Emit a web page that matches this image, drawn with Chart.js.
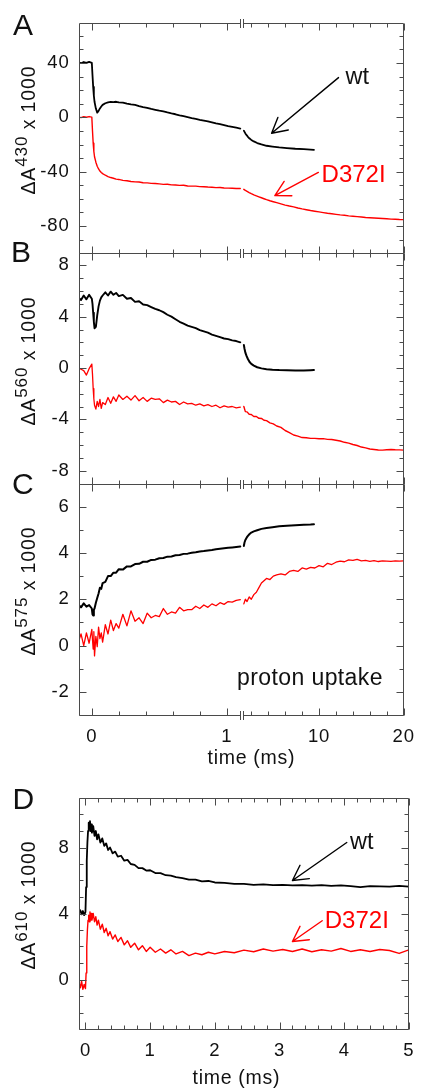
<!DOCTYPE html>
<html>
<head>
<meta charset="utf-8">
<script src="https://cdn.jsdelivr.net/npm/chart.js@4.4.1/dist/chart.umd.min.js"></script>
<style>
html, body { margin: 0; padding: 0; background: #fff; }
#wrap { position: relative; width: 425px; height: 1089px; overflow: hidden; background: #fff; }
canvas { position: absolute; left: 0; }
#c1 { top: 0; }
#c2 { top: 770px; }
</style>
</head>
<body>
<div id="wrap">
  <canvas id="c1" width="425" height="770"></canvas>
  <canvas id="c2" width="425" height="319"></canvas>
</div>
<script>
// ---------------- DATA ----------------
// time axis (ms) of the fast part (left of the axis break), panels A-C
const fastTime = [
  -0.10,-0.08,-0.06,-0.04,-0.02,0.00,0.005,0.01,0.015,0.02,
  0.03,0.04,0.05,0.06,0.07,0.08,0.10,0.12,0.14,0.16,
  0.18,0.20,0.23,0.26,0.29,0.32,0.35,0.38,0.41,0.44,
  0.47,0.50,0.53,0.56,0.59,0.62,0.65,0.68,0.71,0.74,
  0.77,0.80,0.83,0.86,0.89,0.92,0.95,0.98,1.01,1.04,
  1.07,1.10];
// slow part (right of the break), wt and D372I
const slowTimeWt = [1.12,1.2,1.3,1.45,1.6,1.8,2.0,2.3,2.7,3.2,3.8,4.5,5.3,6.2,7.2,8.2,9.0,9.4];
const slowTimeMut = [
  1.12,1.3,1.5,1.75,2.0,2.3,2.6,2.9,3.2,3.5,
  3.8,4.2,4.6,5.0,5.5,6.0,6.5,7.0,7.5,8.0,
  8.5,9.0,9.5,10.0,10.5,11.0,11.5,12.0,12.5,13.0,
  13.5,14.0,14.5,15.0,15.5,16.0,16.5,17.0,17.5,18.0,
  18.5,19.0,19.5,20.0];

// Panel A: dA430 x 1000
const wt430Fast = [
  40.5,39.9,40.8,40.1,40.9,40.2,31.0,22.5,16.0,11.5,
  6.5,3.5,4.8,6.6,8.0,9.2,10.4,11.0,11.4,11.2,
  11.5,11.0,10.9,10.2,9.6,9.2,8.3,7.6,7.0,6.2,
  5.6,4.9,4.4,3.6,2.9,2.3,1.5,0.9,0.2,-0.5,
  -1.1,-1.8,-2.4,-3.0,-3.7,-4.4,-5.0,-5.7,-6.4,-7.0,
  -7.6,-8.2];
const wt430Slow = [-9.8,-10.7,-11.8,-13.1,-14.3,-15.6,-16.6,-17.7,-18.9,-19.9,-20.9,-21.5,-22.1,-22.6,-23.1,-23.4,-23.7,-23.9];
const mut430Fast = [
  0.3,-0.2,0.5,0.1,0.6,0.2,-10.0,-19.0,-25.0,-29.0,
  -33.0,-36.0,-38.0,-39.5,-40.6,-41.4,-42.6,-43.6,-44.3,-44.8,
  -45.5,-45.7,-46.4,-46.7,-47.2,-47.5,-47.6,-48.1,-48.2,-48.6,
  -48.7,-49.0,-49.3,-49.2,-49.7,-49.8,-50.1,-50.0,-50.5,-50.6,
  -50.6,-51.0,-51.1,-51.3,-51.4,-51.7,-51.6,-52.0,-52.1,-52.2,
  -52.4,-52.4];
const mut430Slow = [
  -53.0,-53.8,-54.5,-55.4,-56.2,-57.1,-57.8,-58.5,-59.2,-59.9,
  -60.6,-61.4,-62.1,-62.8,-63.7,-64.6,-65.3,-65.9,-66.7,-67.4,
  -68.0,-68.6,-69.1,-69.6,-70.1,-70.6,-71.0,-71.4,-71.8,-72.1,
  -72.5,-72.8,-73.1,-73.4,-73.7,-73.9,-74.1,-74.3,-74.5,-74.7,
  -74.9,-75.0,-75.2,-75.3];

// Panel B: dA560 x 1000
const wt560Fast = [
  5.5,5.3,5.65,5.35,5.7,5.4,5.0,4.3,3.6,3.1,
  3.2,4.1,4.8,5.25,5.5,5.65,5.9,5.65,5.95,5.7,
  5.85,5.6,5.7,5.4,5.45,5.15,5.2,4.95,4.9,4.75,
  4.6,4.5,4.35,4.15,4.0,3.8,3.6,3.45,3.3,3.2,
  3.1,2.95,2.85,2.75,2.6,2.5,2.4,2.3,2.25,2.15,
  2.1,2.0];
const wt560Slow = [1.8,1.5,1.2,0.92,0.7,0.47,0.32,0.18,0.06,-0.03,-0.09,-0.13,-0.16,-0.18,-0.2,-0.19,-0.17,-0.16];
const mut560Fast = [
  0.0,-0.1,-0.2,-0.55,-0.05,0.3,-0.5,-1.6,-2.4,-2.9,
  -3.2,-2.6,-3.0,-2.45,-3.15,-2.7,-2.85,-2.3,-2.75,-2.25,
  -2.6,-2.1,-2.45,-2.2,-2.5,-2.15,-2.55,-2.3,-2.6,-2.35,
  -2.45,-2.4,-2.7,-2.5,-2.65,-2.6,-2.85,-2.65,-2.8,-2.75,
  -2.9,-2.8,-2.95,-2.85,-3.0,-2.9,-3.1,-2.95,-3.05,-3.0,
  -3.1,-3.05];
const mut560Slow = [
  -3.0,-3.4,-3.42,-3.6,-3.62,-3.78,-3.78,-3.92,-3.93,-4.07,
  -4.1,-4.27,-4.36,-4.52,-4.63,-4.87,-5.03,-5.22,-5.31,-5.42,
  -5.43,-5.48,-5.48,-5.51,-5.5,-5.56,-5.57,-5.63,-5.69,-5.79,
  -5.85,-5.96,-6.04,-6.16,-6.22,-6.31,-6.35,-6.39,-6.4,-6.37,
  -6.35,-6.37,-6.38,-6.4];

// Panel C: dA575 x 1000 (proton uptake)
const wt575Fast = [
  1.78,1.65,1.82,1.68,1.75,1.6,1.35,1.3,1.55,1.6,
  1.85,2.05,2.25,2.5,2.45,2.7,2.75,3.0,3.0,3.15,
  3.15,3.3,3.28,3.42,3.42,3.52,3.53,3.62,3.62,3.7,
  3.71,3.77,3.78,3.84,3.85,3.9,3.91,3.96,3.97,4.01,
  4.03,4.06,4.08,4.11,4.13,4.16,4.18,4.2,4.22,4.24,
  4.26,4.28];
const wt575Slow = [4.3,4.45,4.56,4.66,4.74,4.82,4.88,4.93,4.98,5.04,5.08,5.11,5.15,5.18,5.2,5.22,5.23,5.24];
const mut575Fast = [
  0.15,0.5,0.0,0.55,0.1,0.7,0.25,-0.15,0.6,-0.45,
  0.4,-0.05,0.8,0.3,0.55,0.15,0.9,0.5,1.1,0.65,
  0.95,0.75,1.35,0.85,1.5,1.05,1.2,0.95,1.4,1.2,
  1.3,1.25,1.6,1.35,1.45,1.4,1.65,1.5,1.55,1.55,
  1.7,1.6,1.75,1.65,1.8,1.72,1.85,1.78,1.9,1.88,
  1.95,1.98];
const mut575Slow = [
  1.8,2.0,1.9,2.1,2.0,2.2,2.3,2.5,2.7,2.8,
  2.9,2.85,3.0,3.05,3.1,3.05,3.2,3.25,3.2,3.35,
  3.3,3.38,3.35,3.45,3.4,3.55,3.5,3.6,3.65,3.62,
  3.7,3.68,3.72,3.66,3.68,3.64,3.67,3.63,3.66,3.65,
  3.64,3.66,3.65,3.66];

// Panel D: dA610 x 1000
const timeD = [
  -0.10,-0.08,-0.06,-0.04,-0.02,0.00,0.01,0.02,0.03,0.04,
  0.05,0.06,0.07,0.08,0.09,0.10,0.12,0.14,0.16,0.18,
  0.20,0.23,0.26,0.29,0.32,0.35,0.38,0.42,0.46,0.50,
  0.55,0.60,0.65,0.70,0.76,0.82,0.88,0.94,1.00,1.08,
  1.16,1.24,1.32,1.40,1.50,1.60,1.70,1.80,1.90,2.00,
  2.15,2.30,2.45,2.60,2.75,2.90,3.05,3.20,3.35,3.50,
  3.65,3.80,3.95,4.10,4.25,4.40,4.55,4.70,4.85,5.00];
const wt610 = [
  4.05,4.2,3.95,4.15,3.9,4.1,5.6,7.2,8.3,9.0,
  9.5,9.2,9.6,9.0,9.4,8.9,9.3,8.7,9.0,8.5,
  8.8,8.3,8.55,8.1,8.25,7.85,8.0,7.65,7.75,7.45,
  7.5,7.2,7.25,7.0,6.95,6.75,6.75,6.6,6.62,6.45,
  6.45,6.32,6.3,6.2,6.15,6.05,6.05,5.95,5.97,5.88,
  5.85,5.8,5.8,5.74,5.77,5.72,5.74,5.7,5.72,5.69,
  5.72,5.67,5.7,5.66,5.6,5.66,5.64,5.63,5.67,5.63];
const mut610 = [
  -0.2,-0.5,-0.1,-0.6,-0.3,-0.55,0.4,2.0,3.0,3.6,
  3.9,3.5,4.1,3.6,4.0,3.6,4.0,3.5,3.8,3.3,
  3.6,3.05,3.35,2.85,3.1,2.65,2.9,2.45,2.7,2.3,
  2.55,2.1,2.35,1.95,2.2,1.8,2.05,1.7,1.95,1.65,
  1.85,1.6,1.8,1.55,1.7,1.45,1.6,1.5,1.65,1.55,
  1.7,1.62,1.78,1.68,1.85,1.72,1.82,1.7,1.85,1.68,
  1.8,1.72,1.88,1.7,1.8,1.7,1.82,1.76,1.58,1.8];

// tick labels
const ticks430 = [-80, -40, 0, 40];
const ticks560 = [-8, -4, 0, 4, 8];
const ticks575 = [-2, 0, 2, 4, 6];
const ticks610 = [0, 4, 8];
const timeTicksABC = [0, 1, 10, 20];
const timeTicksD = [0, 1, 2, 3, 4, 5];

// ---------------- STYLE ----------------
const FONT = '"Liberation Sans", Arial, Helvetica, sans-serif';
const INK = '#111111';
const FRAME = '#4a4a4a';
const RED = '#ff0000';
const BLACK = '#000000';
const TICK_SPACING = '0.8px';

// broken time axis: [-0.095, 1.1] on the left half, [1, 20] on the right half
const BRK = { a0: -0.095, a1: 1.1, b0: 1.0, b1: 20, f1: 0.4967, f2: 0.5045 };

const LinearScale = Chart.LinearScale || Chart.registry.getScale('linear');
class BrokenScale extends LinearScale {
  getPixelForValue(value) {
    if (value === null || value === undefined || isNaN(value)) return NaN;
    let dec;
    if (value <= BRK.a1) dec = (value - BRK.a0) / (BRK.a1 - BRK.a0) * BRK.f1;
    else dec = BRK.f2 + (value - BRK.b0) / (BRK.b1 - BRK.b0) * (1 - BRK.f2);
    return this.getPixelForDecimal(dec);
  }
  getValueForPixel(pixel) {
    const dec = this.getDecimalForPixel(pixel);
    if (dec <= BRK.f1) return BRK.a0 + dec / BRK.f1 * (BRK.a1 - BRK.a0);
    return BRK.b0 + (dec - BRK.f2) / (1 - BRK.f2) * (BRK.b1 - BRK.b0);
  }
}
BrokenScale.id = 'broken';
BrokenScale.defaults = {};
Chart.register(BrokenScale);

const lineDs = (t, v, yAxisID, color, width) => ({
  data: v.map((y, i) => ({ x: t[i], y })),
  xAxisID: 'x', yAxisID,
  borderColor: color, borderWidth: width,
  pointRadius: 0, tension: 0, fill: false,
  borderJoinStyle: 'round', borderCapStyle: 'round'
});

const tickFont = { family: FONT, size: 18.5 };

function yAxis(min, max, ticks, extra) {
  return Object.assign({
    type: 'linear', position: 'left', min, max,
    afterBuildTicks: s => { s.ticks = ticks.map(v => ({ value: v })); },
    afterFit: s => { s.width = 79; },
    grid: { display: false, drawTicks: false },
    border: { display: false },
    ticks: { autoSkip: false, padding: 9.5, color: INK, font: tickFont, callback: v => String(v) }
  }, extra || {});
}
function xAxis(type, min, max, ticks, height) {
  return {
    type, min, max, position: 'bottom',
    afterBuildTicks: s => { s.ticks = ticks.map(v => ({ value: v })); },
    afterFit: s => { s.height = height; },
    grid: { display: false, drawTicks: false },
    border: { display: false },
    ticks: { autoSkip: false, maxRotation: 0, minRotation: 0, padding: 11, color: INK, font: tickFont, callback: v => String(v) }
  };
}

// ---------------- drawing helpers ----------------
function seg(ctx, x1, y1, x2, y2) { ctx.beginPath(); ctx.moveTo(x1, y1); ctx.lineTo(x2, y2); ctx.stroke(); }
const snap = v => Math.round(v) + 0.5;

function txt(ctx, s, x, y, size, color, align, spacing) {
  ctx.save();
  ctx.font = size + 'px ' + FONT;
  ctx.fillStyle = color;
  ctx.textAlign = align || 'left';
  ctx.textBaseline = 'alphabetic';
  ctx.letterSpacing = (spacing || 0) + 'px';
  ctx.fillText(s, x, y);
  ctx.restore();
}
function yTitle(ctx, sup, xBase, yCenter) {
  const F = 19.5, FS = 17;
  ctx.save();
  ctx.letterSpacing = '0.9px';
  ctx.font = F + 'px ' + FONT;
  const w1 = ctx.measureText('\u0394A').width;
  const w3 = ctx.measureText(' x 1000').width;
  ctx.font = FS + 'px ' + FONT;
  const w2 = ctx.measureText(sup).width;
  const x0 = -(w1 + w2 + w3) / 2;
  ctx.translate(xBase, yCenter);
  ctx.rotate(-Math.PI / 2);
  ctx.fillStyle = INK;
  ctx.textBaseline = 'alphabetic';
  ctx.textAlign = 'left';
  ctx.font = F + 'px ' + FONT; ctx.fillText('\u0394A', x0, 0);
  ctx.font = FS + 'px ' + FONT; ctx.fillText(sup, x0 + w1, -8.5);
  ctx.font = F + 'px ' + FONT; ctx.fillText(' x 1000', x0 + w1 + w2, 0);
  ctx.restore();
}
function arrow(ctx, x1, y1, x2, y2, color) {
  const ang = Math.atan2(y2 - y1, x2 - x1), h = 17, a = 0.5;
  ctx.save();
  ctx.strokeStyle = color; ctx.lineWidth = 1.4; ctx.lineCap = 'round'; ctx.lineJoin = 'round';
  ctx.beginPath();
  ctx.moveTo(x1, y1); ctx.lineTo(x2, y2);
  ctx.moveTo(x2 - h * Math.cos(ang - a), y2 - h * Math.sin(ang - a));
  ctx.lineTo(x2, y2);
  ctx.lineTo(x2 - h * Math.cos(ang + a), y2 - h * Math.sin(ang + a));
  ctx.stroke();
  ctx.restore();
}

// frame with inward ticks (positions from the chart scales)
function framePlugin(cfg) {
  return {
    id: 'frame',
    beforeDraw(chart) { chart.ctx.letterSpacing = TICK_SPACING; },
    afterDraw(chart) {
      const ctx = chart.ctx, ca = chart.chartArea, xs = chart.scales.x;
      ctx.save();
      ctx.letterSpacing = '0px';
      ctx.strokeStyle = FRAME; ctx.lineWidth = 1;
      const L = snap(ca.left), R = snap(ca.right - 1);
      let gap = null;
      if (cfg.broken) gap = [snap(xs.getPixelForDecimal(BRK.f1)), snap(xs.getPixelForDecimal(BRK.f2))];
      cfg.panels.forEach(p => {
        const ys = chart.scales[p.axis];
        const T = snap(ys.top), B = snap(ys.bottom);
        seg(ctx, L, T, L, B); seg(ctx, R, T, R, B);
        [T, B].forEach(y => {
          if (gap) {
            seg(ctx, L, y, gap[0], y); seg(ctx, gap[1], y, R, y);
            seg(ctx, gap[0], y - 4.5, gap[0], y + 4.5); seg(ctx, gap[1], y - 4.5, gap[1], y + 4.5);
          } else seg(ctx, L, y, R, y);
        });
        const st = p.minor;
        for (let k = Math.ceil(ys.min / st - 1e-9); k * st <= ys.max + 1e-9; k++) {
          const v = k * st;
          const y = snap(ys.getPixelForValue(v));
          const len = p.major.some(m => Math.abs(m - v) < 1e-9) ? 7 : 4;
          seg(ctx, L, y, L + len, y); seg(ctx, R, y, R - len, y);
        }
        cfg.xTicks.forEach(t => {
          const x = snap(xs.getPixelForValue(t.v));
          const len = t.major ? 7 : 4;
          seg(ctx, x, T, x, T + len); seg(ctx, x, B, x, B - len);
        });
      });
      ctx.restore();
    }
  };
}
function annotPlugin(cfg) {
  return {
    id: 'annot',
    afterDraw(chart) {
      const ctx = chart.ctx, xs = chart.scales.x;
      cfg.letters.forEach(l => txt(ctx, l.s, l.x, l.y, 30, INK, 'left', 0));
      cfg.yTitles.forEach(t => yTitle(ctx, t.sup, 35, t.y));
      txt(ctx, 'time (ms)', cfg.xTitle.x, cfg.xTitle.y, 19.5, INK, 'center', 0.7);
      cfg.labels.forEach(a => {
        const ys = chart.scales[a.axis];
        txt(ctx, a.s, xs.getPixelForValue(a.x), ys.getPixelForValue(a.y), a.size, a.color, 'left', a.sp || 0);
      });
      cfg.arrows.forEach(a => {
        const ys = chart.scales[a.axis];
        arrow(ctx, xs.getPixelForValue(a.from[0]), ys.getPixelForValue(a.from[1]),
                   xs.getPixelForValue(a.to[0]), ys.getPixelForValue(a.to[1]), a.color);
      });
    }
  };
}

const baseOpts = {
  responsive: false, animation: false, devicePixelRatio: 1,
  plugins: { legend: { display: false }, tooltip: { enabled: false } },
  elements: { point: { radius: 0 } },
  events: []
};

// ---------------- Chart 1: panels A, B, C ----------------
const xTicksABC = [0, 0.2, 0.4, 0.6, 0.8, 1, 2, 4, 6, 8, 10, 12, 14, 16, 18, 20]
  .map(v => ({ v, major: timeTicksABC.includes(v) }));

new Chart(document.getElementById('c1'), {
  type: 'line',
  data: {
    datasets: [
      lineDs(fastTime, mut430Fast, 'yA', RED, 1.4),
      lineDs(slowTimeMut, mut430Slow, 'yA', RED, 1.4),
      lineDs(fastTime, wt430Fast, 'yA', BLACK, 1.8),
      lineDs(slowTimeWt, wt430Slow, 'yA', BLACK, 1.8),
      lineDs(fastTime, mut560Fast, 'yB', RED, 1.3),
      lineDs(slowTimeMut, mut560Slow, 'yB', RED, 1.4),
      lineDs(fastTime, wt560Fast, 'yB', BLACK, 1.9),
      lineDs(slowTimeWt, wt560Slow, 'yB', BLACK, 2.0),
      lineDs(fastTime, mut575Fast, 'yC', RED, 1.3),
      lineDs(slowTimeMut, mut575Slow, 'yC', RED, 1.3),
      lineDs(fastTime, wt575Fast, 'yC', BLACK, 2.0),
      lineDs(slowTimeWt, wt575Slow, 'yC', BLACK, 2.0)
    ]
  },
  options: Object.assign({}, baseOpts, {
    layout: { padding: { top: 23, right: 11, left: 0, bottom: 0 } },
    scales: {
      x: xAxis('broken', -0.095, 20, timeTicksABC, 55),
      yA: yAxis(-99.5, 69.5, ticks430, { stack: 'abc', stackWeight: 229.5, weight: 3 }),
      yB: yAxis(-9, 9, ticks560, { stack: 'abc', stackWeight: 231, weight: 2 }),
      yC: yAxis(-3, 7, ticks575, { stack: 'abc', stackWeight: 231.5, weight: 1 })
    }
  }),
  plugins: [
    framePlugin({
      broken: true,
      panels: [
        { axis: 'yA', minor: 10, major: ticks430 },
        { axis: 'yB', minor: 1, major: ticks560 },
        { axis: 'yC', minor: 1, major: ticks575 }
      ],
      xTicks: xTicksABC
    }),
    annotPlugin({
      letters: [{ s: 'A', x: 13, y: 34.5 }, { s: 'B', x: 11, y: 262 }, { s: 'C', x: 12, y: 493.5 }],
      yTitles: [{ sup: '430', y: 130 }, { sup: '560', y: 361 }, { sup: '575', y: 591 }],
      xTitle: { x: 251.3, y: 763.5 },
      labels: [
        { s: 'wt', axis: 'yA', x: 13.13, y: 24.9, size: 23.5, color: INK },
        { s: 'D372I', axis: 'yA', x: 10.3, y: -47.8, size: 24, color: RED },
        { s: 'proton uptake', axis: 'yC', x: 1.076, y: -1.71, size: 23, color: INK, sp: 0.4 }
      ],
      arrows: [
        { axis: 'yA', from: [12.3, 29.3], to: [4.4, -11.7], color: BLACK },
        { axis: 'yA', from: [9.92, -40.5], to: [4.78, -57.6], color: RED }
      ]
    })
  ]
});

// ---------------- Chart 2: panel D ----------------
const xTicksD = [];
for (let k = 0; k <= 25; k++) xTicksD.push({ v: Math.round(k * 2) / 10, major: k % 5 === 0 });

new Chart(document.getElementById('c2'), {
  type: 'line',
  data: {
    datasets: [
      lineDs(timeD, mut610, 'yD', RED, 1.4),
      lineDs(timeD, wt610, 'yD', BLACK, 1.8)
    ]
  },
  options: Object.assign({}, baseOpts, {
    layout: { padding: { top: 28, right: 11, left: 0, bottom: 0 } },
    scales: {
      x: xAxis('linear', -0.1, 5, timeTicksD, 60),
      yD: yAxis(-3, 11, ticks610)
    }
  }),
  plugins: [
    framePlugin({
      broken: false,
      panels: [{ axis: 'yD', minor: 1, major: ticks610 }],
      xTicks: xTicksD
    }),
    annotPlugin({
      letters: [{ s: 'D', x: 12.5, y: 38.5 }],
      yTitles: [{ sup: '610', y: 135 }],
      xTitle: { x: 236.3, y: 313.5 },
      labels: [
        { s: 'wt', axis: 'yD', x: 4.09, y: 7.9, size: 23.5, color: INK },
        { s: 'D372I', axis: 'yD', x: 3.70, y: 3.1, size: 24, color: RED }
      ],
      arrows: [
        { axis: 'yD', from: [4.04, 8.3], to: [3.2, 6.0], color: BLACK },
        { axis: 'yD', from: [3.66, 3.56], to: [3.2, 2.3], color: RED }
      ]
    })
  ]
});
</script>
</body>
</html>
